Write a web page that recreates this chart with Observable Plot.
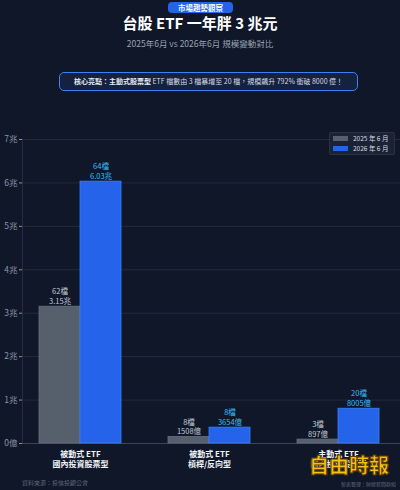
<!DOCTYPE html>
<html><head><meta charset="utf-8">
<script src="https://cdn.jsdelivr.net/npm/d3@7"></script>
<script src="https://cdn.jsdelivr.net/npm/@observablehq/plot@0.6"></script>
<style>
body{margin:0;background:#0f1729;width:400px;height:490px;overflow:hidden;font-family:"Noto Sans CJK TC","Noto Sans",sans-serif;}
#root{position:relative;width:400px;height:490px;}
.abs{position:absolute;}
#badge{left:168px;top:2px;width:65px;height:11px;line-height:11px;text-align:center;background:#2563eb;color:#fff;font-size:7.5px;font-weight:700;border-radius:4px;}
#title{left:0;width:400px;top:15px;text-align:center;color:#fff;font-size:15px;font-weight:700;line-height:16px;}
#subtitle{left:0;width:400px;top:37px;text-align:center;color:#9aa3b2;font-size:8.5px;line-height:12px;}
#highlight{left:59px;top:72px;width:297px;height:17px;line-height:17px;border:1.3px solid #3b82f6;border-radius:5px;background:#14213f;color:#d4dbe6;font-size:7px;text-align:center;white-space:nowrap;}
#highlight b{color:#e6ecf5;}
#legend{left:329px;top:132px;width:64px;height:21px;background:#1a2233;border:1px solid #2a3344;border-radius:2px;}
.lrow{position:absolute;left:3px;height:8px;display:flex;align-items:center;font-size:6.5px;color:#d8dee8;white-space:nowrap;}
.sw{width:15px;height:5px;margin-right:5px;}
.chart{left:0;top:100px;}
#src{left:22px;top:478px;font-size:6px;color:#5d6778;white-space:nowrap;}
#maker{right:4px;top:480px;font-size:5px;color:#5d6778;white-space:nowrap;}
#wm{left:309px;top:454px;font-size:20px;font-weight:900;color:#f5c211;-webkit-text-stroke:1px #5a3a05;letter-spacing:0px;line-height:22px;white-space:nowrap;}
</style></head><body><div id="root">
<div id="badge" class="abs">市場趨勢觀察</div>
<div id="title" class="abs">台股 ETF 一年胖 3 兆元</div>
<div id="subtitle" class="abs">2025年6月 vs 2026年6月 規模變動對比</div>
<div id="highlight" class="abs"><b>核心亮點：主動式股票型</b> ETF 檔數由 3 檔暴增至 20 檔，規模飆升 792% 衝破 8000 億！</div>
<div id="bg" class="abs chart"></div>
<div id="fg" class="abs chart"></div>
<div id="legend" class="abs"></div>
<div id="src" class="abs">資料來源：投信投顧公會</div>
<div id="maker" class="abs">製表整理：財經新聞群組</div>
<div id="wm" class="abs">自由時報</div>
</div>
<script>
const categories = ["被動式 ETF\n國內投資股票型", "被動式 ETF\n槓桿/反向型", "主動式 ETF\n國內投資股票型"];
const seriesNames = ["2025 年 6 月", "2026 年 6 月"];
const values2025 = [3.15, 0.1508, 0.0897]; // 兆
const values2026 = [6.03, 0.3654, 0.8005]; // 兆
const counts2025 = [62, 8, 3];
const counts2026 = [64, 8, 20];
const yTicks = [0, 1, 2, 3, 4, 5, 6, 7];
const yTickLabels = ["0億", "1兆", "2兆", "3兆", "4兆", "5兆", "6兆", "7兆"];
const seriesFill = ["#56606d", "#2563eb"];
const seriesStroke = ["#67717e", "#3b82f6"];
const labelFill = ["#c3cad4", "#38bdf8"];

const fmt = v => v >= 1 ? v.toFixed(2) + "兆" : Math.round(v * 10000) + "億";
const seriesValues = [values2025, values2026];
const seriesCounts = [counts2025, counts2026];
const data = [];
categories.forEach((c, i) => seriesNames.forEach((s, k) => {
  data.push({category: c, series: s, k, value: seriesValues[k][i], label: seriesCounts[k][i] + "檔\n" + fmt(seriesValues[k][i])});
}));

const H = 375, MT = 39, MB = 32;
const font = '"Noto Sans CJK TC","Noto Sans",sans-serif';

const bg = Plot.plot({
  width: 400, height: H, marginTop: MT, marginBottom: MB, marginLeft: 22, marginRight: 0,
  style: {background: "transparent", fontFamily: font, overflow: "visible"},
  x: {domain: [0, 1], axis: null},
  y: {domain: [0, 7], axis: null},
  marks: [
    Plot.gridY(yTicks, {stroke: "#2a3446", strokeOpacity: 0.7}),
    Plot.ruleX([0], {stroke: "#2a3446", strokeOpacity: 0.8}),
    Plot.ruleY([0], {stroke: "#3a4456"}),
    Plot.axisY(yTicks, {tickFormat: d => yTickLabels[yTicks.indexOf(d)], tickSize: 3, tickPadding: 2, fontSize: 8.5, color: "#8a94a6", label: null})
  ]
});
document.getElementById("bg").appendChild(bg);

const fg = Plot.plot({
  width: 400, height: H, marginTop: MT, marginBottom: MB, marginLeft: 22, marginRight: 4,
  style: {background: "transparent", fontFamily: font, overflow: "visible"},
  fx: {domain: categories, paddingInner: 0.364, paddingOuter: 0.13, label: null},
  x: {domain: seriesNames, padding: 0, axis: null},
  y: {domain: [0, 7], axis: null},
  marks: [
    ...seriesNames.map((s, k) => Plot.barY(data.filter(d => d.k === k), {fx: "category", x: "series", y: "value", fill: seriesFill[k], stroke: seriesStroke[k], strokeWidth: 0.8})),
    ...seriesNames.map((s, k) => Plot.text(data.filter(d => d.k === k), {fx: "category", x: "series", y: "value", text: "label", lineAnchor: "bottom", dy: -3, fill: labelFill[k], fontSize: 7.5, lineHeight: 1.25})),
    Plot.axisFx({anchor: "bottom", tickSize: 0, tickPadding: 6, fontSize: 8, fontWeight: "bold", color: "#eef1f6", lineHeight: 1.25, label: null})
  ]
});
document.getElementById("fg").appendChild(fg);

const lg = document.getElementById("legend");
seriesNames.forEach((s, k) => {
  const r = document.createElement("div");
  r.className = "lrow";
  r.style.top = (1 + k * 10) + "px";
  r.innerHTML = `<div class="sw" style="background:${seriesFill[k]}"></div><span>${s}</span>`;
  lg.appendChild(r);
});
</script>
</body></html>
